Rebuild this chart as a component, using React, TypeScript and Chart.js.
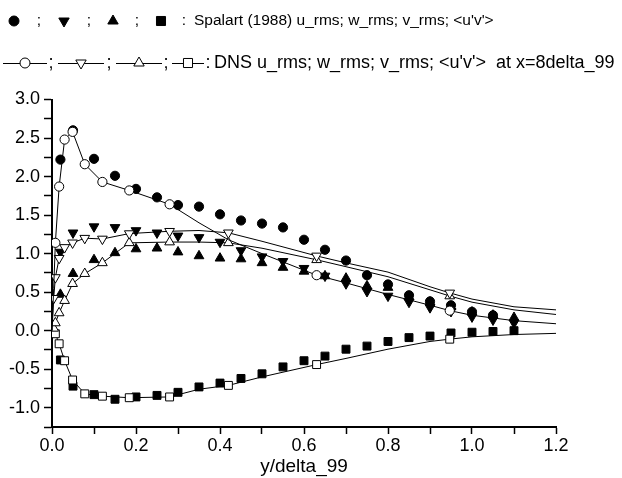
import React, { useEffect, useRef } from 'react';
import { Chart, registerables } from 'chart.js';

Chart.register(...registerables);

// ---- Spalart (1988) data (filled symbols) ----
const spalartX = [0.02, 0.05, 0.1, 0.15, 0.2, 0.25, 0.3, 0.35, 0.4, 0.45, 0.5, 0.55, 0.6, 0.65, 0.7, 0.75, 0.8, 0.85, 0.9, 0.95, 1.0, 1.05, 1.1];
const spalartU = [2.22, 2.6, 2.23, 2.01, 1.84, 1.73, 1.63, 1.61, 1.51, 1.43, 1.39, 1.34, 1.18, 1.05, 0.91, 0.72, 0.6, 0.46, 0.38, 0.33, 0.245, 0.2, null];
const spalartW = [1.02, 1.27, 1.35, 1.34, 1.3, 1.27, 1.23, 1.21, 1.15, 1.04, 0.96, 0.9, 0.81, 0.71, 0.61, 0.51, 0.45, 0.37, 0.3, 0.25, 0.18, 0.14, 0.1];
const spalartV = [0.47, 0.74, 0.92, 1.01, 1.06, 1.07, 1.02, 0.97, 0.94, 0.93, 0.88, 0.82, 0.77, 0.71, 0.68, 0.58, 0.56, 0.44, 0.37, 0.31, 0.24, 0.2, 0.17];
const spalartUV = [-0.38, -0.72, -0.83, -0.89, -0.86, -0.84, -0.8, -0.73, -0.68, -0.62, -0.56, -0.47, -0.39, -0.33, -0.24, -0.2, -0.14, -0.09, -0.07, -0.03, -0.02, -0.01, 0.0];

// ---- DNS data (lines with open symbols at marked points) ----
const dnsX = [0, 0.004, 0.008, 0.017, 0.03, 0.049, 0.078, 0.12, 0.184, 0.28, 0.35, 0.42, 0.5, 0.63, 0.7, 0.8, 0.9, 0.947, 1.0, 1.1, 1.2];
const dnsU = [0, 0.55, 1.14, 1.87, 2.48, 2.58, 2.16, 1.93, 1.82, 1.64, 1.4, 1.18, 1.0, 0.72, 0.62, 0.47, 0.33, 0.26, 0.2, 0.13, 0.09];
const dnsW = [0, 0.42, 0.69, 0.94, 1.08, 1.14, 1.2, 1.19, 1.26, 1.29, 1.3, 1.27, 1.16, 0.97, 0.88, 0.76, 0.57, 0.49, 0.41, 0.31, 0.27];
const dnsV = [0, 0.03, 0.1, 0.23, 0.39, 0.61, 0.74, 0.88, 1.14, 1.15, 1.15, 1.14, 1.07, 0.92, 0.83, 0.7, 0.53, 0.45, 0.37, 0.27, 0.21];
const dnsUV = [0, -0.01, -0.04, -0.17, -0.39, -0.64, -0.82, -0.85, -0.87, -0.86, -0.76, -0.71, -0.6, -0.44, -0.36, -0.24, -0.14, -0.11, -0.08, -0.05, -0.035];
const dnsUMarked = [0, 0, 1, 1, 1, 1, 1, 1, 1, 1, 0, 0, 0, 1, 0, 0, 0, 1, 0, 0, 0];
const dnsWMarked = [0, 1, 1, 1, 1, 1, 1, 1, 1, 1, 0, 1, 0, 1, 0, 0, 0, 1, 0, 0, 0];
const dnsVMarked = [0, 1, 1, 1, 1, 1, 1, 1, 1, 1, 0, 1, 0, 1, 0, 0, 0, 1, 0, 0, 0];
const dnsUVMarked = [0, 0, 1, 1, 1, 1, 1, 1, 1, 1, 0, 1, 0, 1, 0, 0, 0, 1, 0, 0, 0];

// ---- Text ----
const legendLine1 = "Spalart (1988) u_rms; w_rms; v_rms; <u'v'>";
const legendLine2 = "DNS u_rms; w_rms; v_rms; <u'v'>  at x=8delta_99";
const xTitle = 'y/delta_99';

const FONT = '"Liberation Sans", Arial, Helvetica, sans-serif';

function drawMarker(ctx: CanvasRenderingContext2D, shape: string, x: number, y: number, r: number, filled: boolean) {
  ctx.beginPath();
  if (shape === 'circle') {
    ctx.arc(x, y, r, 0, Math.PI * 2);
  } else if (shape === 'up') {
    ctx.moveTo(x, y - r);
    ctx.lineTo(x + 0.866 * r, y + 0.5 * r);
    ctx.lineTo(x - 0.866 * r, y + 0.5 * r);
    ctx.closePath();
  } else if (shape === 'down') {
    ctx.moveTo(x, y + r);
    ctx.lineTo(x + 0.866 * r, y - 0.5 * r);
    ctx.lineTo(x - 0.866 * r, y - 0.5 * r);
    ctx.closePath();
  } else {
    const s = r * Math.SQRT1_2;
    ctx.rect(x - s, y - s, 2 * s, 2 * s);
  }
  ctx.fillStyle = filled ? '#000' : '#fff';
  ctx.fill();
  ctx.lineWidth = 1;
  ctx.strokeStyle = '#000';
  ctx.stroke();
}

const legendPlugin = {
  id: 'customLegend',
  afterDraw(chart: any) {
    const ctx: CanvasRenderingContext2D = chart.ctx;
    ctx.save();
    ctx.fillStyle = '#000';
    ctx.textBaseline = 'middle';
    // line 1
    ctx.font = `15.5px ${FONT}`;
    const y1 = 21;
    drawMarker(ctx, 'circle', 14, y1, 5, true);
    drawMarker(ctx, 'down', 64, y1, 6, true);
    drawMarker(ctx, 'up', 113, y1, 6, true);
    drawMarker(ctx, 'rect', 161, y1, 6.4, true);
    ctx.fillStyle = '#000';
    ctx.textAlign = 'center';
    ctx.fillText(';', 39, y1);
    ctx.fillText(';', 89, y1);
    ctx.fillText(';', 137, y1);
    ctx.fillText(':', 184, y1);
    ctx.textAlign = 'left';
    ctx.fillText(legendLine1, 194, y1);
    // line 2
    ctx.font = `18px ${FONT}`;
    const y2 = 63;
    const segs: [number, number, number, string][] = [
      [3, 47, 25, 'circle'],
      [58, 104, 81, 'down'],
      [116, 162, 139, 'up'],
      [172, 204, 188, 'rect'],
    ];
    ctx.lineWidth = 1;
    ctx.strokeStyle = '#000';
    for (const [a, b] of segs) {
      ctx.beginPath();
      ctx.moveTo(a, y2 + 0.5);
      ctx.lineTo(b, y2 + 0.5);
      ctx.stroke();
    }
    for (const [, , c, s] of segs) {
      drawMarker(ctx, s, c, y2, s === 'circle' ? 5 : s === 'rect' ? 6.4 : 6, false);
    }
    ctx.fillStyle = '#000';
    ctx.textAlign = 'center';
    ctx.fillText(';', 51, y2);
    ctx.fillText(';', 109, y2);
    ctx.fillText(';', 166, y2);
    ctx.fillText(':', 208, y2);
    ctx.textAlign = 'left';
    ctx.fillText(legendLine2, 214, y2);
    ctx.restore();
  },
};

function pts(xs: number[], ys: (number | null)[]) {
  const out: { x: number; y: number }[] = [];
  xs.forEach((x, i) => {
    const y = ys[i];
    if (y !== null && y !== undefined) out.push({ x, y });
  });
  return out;
}

function spalartSet(label: string, ys: (number | null)[], style: string, rotation: number, r: number) {
  return {
    label,
    data: pts(spalartX, ys),
    showLine: false,
    pointStyle: style,
    rotation,
    pointRadius: r,
    pointHoverRadius: r,
    pointBackgroundColor: '#000',
    pointBorderColor: '#000',
    pointBorderWidth: 1,
    order: 1,
  };
}

function dnsSet(label: string, ys: number[], marks: number[], style: string, rotation: number, r: number) {
  return {
    label,
    data: pts(dnsX, ys),
    showLine: true,
    borderColor: '#000',
    borderWidth: 1,
    tension: 0,
    pointStyle: style,
    rotation,
    pointRadius: (c: any) => (marks[c.dataIndex] ? r : 0),
    pointHoverRadius: (c: any) => (marks[c.dataIndex] ? r : 0),
    pointBackgroundColor: '#fff',
    pointBorderColor: '#000',
    pointBorderWidth: 1,
    order: 0,
  };
}

export default function App() {
  const ref = useRef<HTMLCanvasElement | null>(null);
  useEffect(() => {
    if (!ref.current) return;
    const chart = new Chart(ref.current, {
      type: 'scatter',
      data: {
        datasets: [
          dnsSet('DNS u_rms', dnsU, dnsUMarked, 'circle', 0, 4.6),
          dnsSet('DNS w_rms', dnsW, dnsWMarked, 'triangle', 180, 5.6),
          dnsSet('DNS v_rms', dnsV, dnsVMarked, 'triangle', 0, 5.6),
          dnsSet("DNS <u'v'>", dnsUV, dnsUVMarked, 'rect', 0, 5.6),
          spalartSet('Spalart u_rms', spalartU, 'circle', 0, 4.6),
          spalartSet('Spalart w_rms', spalartW, 'triangle', 180, 5.6),
          spalartSet('Spalart v_rms', spalartV, 'triangle', 0, 5.6),
          spalartSet("Spalart <u'v'>", spalartUV, 'rect', 0, 5.6),
        ] as any,
      },
      options: {
        animation: false,
        responsive: false,
        devicePixelRatio: 1,
        layout: { padding: { top: 99.5, right: 66, bottom: 0, left: 0 } },
        plugins: { legend: { display: false }, tooltip: { enabled: false } },
        scales: {
          x: {
            type: 'linear',
            min: 0,
            max: 1.2,
            afterFit: (s: any) => { s.height = 51; },
            grid: { drawOnChartArea: false, drawTicks: true, tickLength: 7, tickColor: '#000', tickWidth: 1.5 },
            border: { display: true, color: '#000', width: 2 },
            ticks: {
              stepSize: 0.1,
              autoSkip: false,
              maxRotation: 0,
              padding: 1,
              color: '#000',
              font: { family: FONT, size: 18 },
              callback: (v: any) => {
                const k = Math.round(Number(v) * 10);
                return k % 2 === 0 ? (k / 10).toFixed(1) : '';
              },
            },
            title: { display: true, text: xTitle, color: '#000', font: { family: FONT, size: 19 }, padding: { top: 0, bottom: 0 } },
          },
          y: {
            type: 'linear',
            min: -1.25,
            max: 3.0,
            afterFit: (s: any) => { s.width = 52; },
            grid: { drawOnChartArea: false, drawTicks: true, tickLength: 8, tickColor: '#000', tickWidth: 1.5 },
            border: { display: true, color: '#000', width: 2 },
            ticks: {
              stepSize: 0.25,
              autoSkip: false,
              padding: 4,
              color: '#000',
              font: { family: FONT, size: 18 },
              callback: (v: any) => {
                const k = Math.round(Number(v) * 4);
                return k % 2 === 0 ? (k / 4).toFixed(1) : '';
              },
            },
          },
        },
      },
      plugins: [legendPlugin],
    } as any);
    return () => chart.destroy();
  }, []);
  return (
    <div style={{ position: 'fixed', left: 0, top: 0, width: 622, height: 478, background: '#fff' }}>
      <canvas ref={ref} width={622} height={478} style={{ display: 'block' }} />
    </div>
  );
}
